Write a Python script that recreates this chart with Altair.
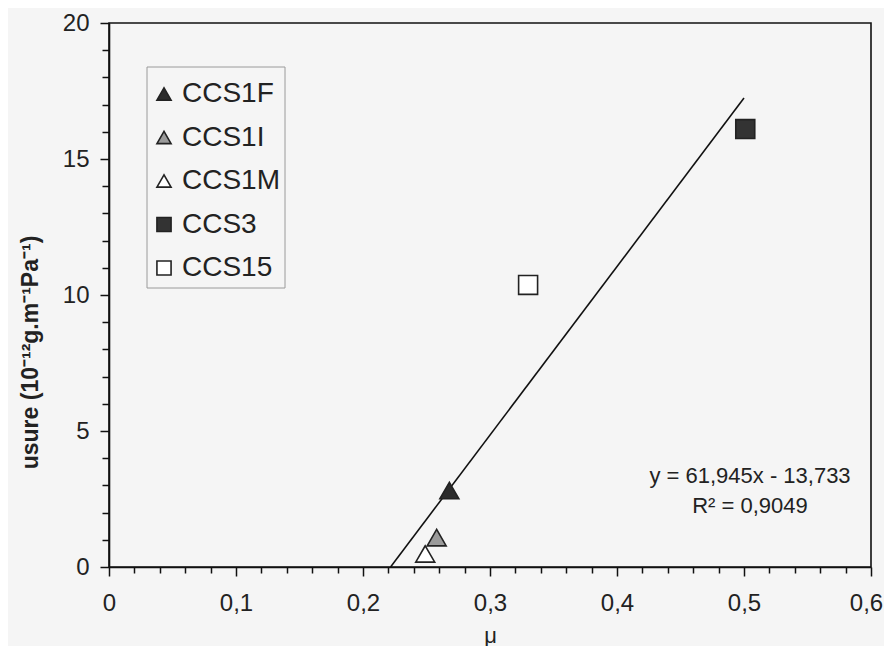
import altair as alt
import pandas as pd

# ---- data ----
series = ["CCS1F", "CCS1I", "CCS1M", "CCS3", "CCS15"]
mu = [0.268, 0.258, 0.249, 0.501, 0.330]
usure = [2.81, 1.08, 0.48, 16.10, 10.37]

fills = ["#2b2b2b", "#9a9a9a", "#ffffff", "#333333", "#ffffff"]
shapes = ["triangle-up", "triangle-up", "triangle-up", "square", "square"]
sizes = [360, 360, 360, 256, 256]

slope = 61.945
intercept = -13.733
fit_x = [-intercept / slope, 0.5]

equation_lines = ["y = 61,945x - 13,733", "R² = 0,9049"]

x_ticks = [0, 0.02, 0.04, 0.06, 0.08, 0.1, 0.12, 0.14, 0.16, 0.18, 0.2,
           0.22, 0.24, 0.26, 0.28, 0.3, 0.32, 0.34, 0.36, 0.38, 0.4,
           0.42, 0.44, 0.46, 0.48, 0.5, 0.52, 0.54, 0.56, 0.58, 0.6]
y_ticks = list(range(0, 21))

FONT = "Liberation Sans"
INK = "#222222"

pts = pd.DataFrame({"serie": series, "mu": mu, "usure": usure})
fit = pd.DataFrame({"mu": fit_x})
one = pd.DataFrame({"t": ["eq"]})

x_scale = alt.Scale(domain=[0, 0.6], nice=False, zero=False)
y_scale = alt.Scale(domain=[0, 20], nice=False)

MAJOR_X = "abs(datum.value*10 - round(datum.value*10)) < 1e-6"

x_axis = alt.Axis(
    values=x_ticks,
    labelExpr=f"{MAJOR_X} ? replace(format(datum.value, '.1~f'), '.', ',') : ''",
    tickSize={"condition": {"test": MAJOR_X, "value": 9}, "value": 6},
    labelOffset={"condition": {"test": "datum.value > 0.59", "value": -5}, "value": 0},
    labelOverlap=False,
    labelFlush=False,
    labelPadding=15,
    title="μ",
    titleFontWeight="normal",
    titleFontSize=22,
    titleBaseline="alphabetic",
    titleY=75,
)
y_axis = alt.Axis(
    values=y_ticks,
    labelExpr="datum.value % 5 == 0 ? datum.label : ''",
    tickSize={"condition": {"test": "datum.value % 5 == 0", "value": 9}, "value": 7},
    labelOverlap=False,
    labelFlush=False,
    labelPadding=11,
    title="usure (10⁻¹²g.m⁻¹Pa⁻¹)",
    titleFontWeight="bold",
    titleFontSize=23,
    titleAngle=270,
    titleBaseline="middle",
    titleAlign="center",
    titleX=-79,
    titleY=329,
)

fill_enc = alt.Fill("serie:N", scale=alt.Scale(domain=series, range=fills), legend=None)
shape_enc = alt.Shape("serie:N", scale=alt.Scale(domain=series, range=shapes), legend=None)

line = alt.Chart(fit).transform_calculate(
    usure=f"{slope} * datum.mu + ({intercept})"
).mark_line(color="#111", strokeWidth=1.6).encode(
    x=alt.X("mu:Q", scale=x_scale, axis=x_axis),
    y=alt.Y("usure:Q", scale=y_scale, axis=y_axis),
)

points = alt.Chart(pts).mark_point(filled=True, stroke=INK, strokeWidth=1.6, opacity=1).encode(
    x=alt.X("mu:Q", scale=x_scale, axis=x_axis),
    y=alt.Y("usure:Q", scale=y_scale, axis=y_axis),
    fill=fill_enc,
    shape=shape_enc,
    size=alt.Size("serie:N", scale=alt.Scale(domain=series, range=sizes), legend=None),
)

text = alt.Chart(one).mark_text(
    font=FONT, fontSize=22, color=INK, align="center", baseline="middle", lineHeight=30
).encode(
    x=alt.value(641),
    y=alt.value(453),
    text=alt.value(equation_lines),
)

main = alt.layer(line, points, text)

# ---- legend drawn as marks (box, symbols, labels) ----
leg_y = alt.Y("serie:N", scale=alt.Scale(type="point", domain=series, range=[71, 245], padding=0),
              axis=None)

leg_box = alt.Chart(one).mark_rect(
    fill="#ffffff", fillOpacity=0, stroke="#9a9a9a", strokeWidth=1
).encode(
    x=alt.value(38), x2=alt.value(176), y=alt.value(44), y2=alt.value(265)
)

leg_sym = alt.Chart(pts).mark_point(filled=True, stroke=INK, strokeWidth=1.6, opacity=1, size=200).encode(
    x=alt.value(55),
    y=leg_y,
    fill=fill_enc,
    shape=shape_enc,
)

leg_txt = alt.Chart(pts).mark_text(
    font=FONT, fontSize=28, color=INK, align="left", baseline="middle"
).encode(
    x=alt.value(73),
    y=leg_y,
    text="serie:N",
)

legend = alt.layer(leg_box, leg_sym, leg_txt)

chart = alt.layer(main, legend).resolve_scale(y="independent").properties(
    width=762,
    height=544,
    background="#f5f5f5",
    autosize=alt.AutoSizeParams(type="none"),
    padding={"left": 101, "top": 15, "right": 13, "bottom": 79},
).configure_view(
    stroke="#111", strokeWidth=1.6
).configure_axis(
    domainColor="#111", domainWidth=1.6, tickColor="#111", tickWidth=1.5,
    labelFont=FONT, labelFontSize=24, labelColor=INK,
    titleFont=FONT, titleColor=INK, grid=False, labelOverlap=False,
)

chart.save("out.html", embed_options={"renderer": "svg", "actions": False})
